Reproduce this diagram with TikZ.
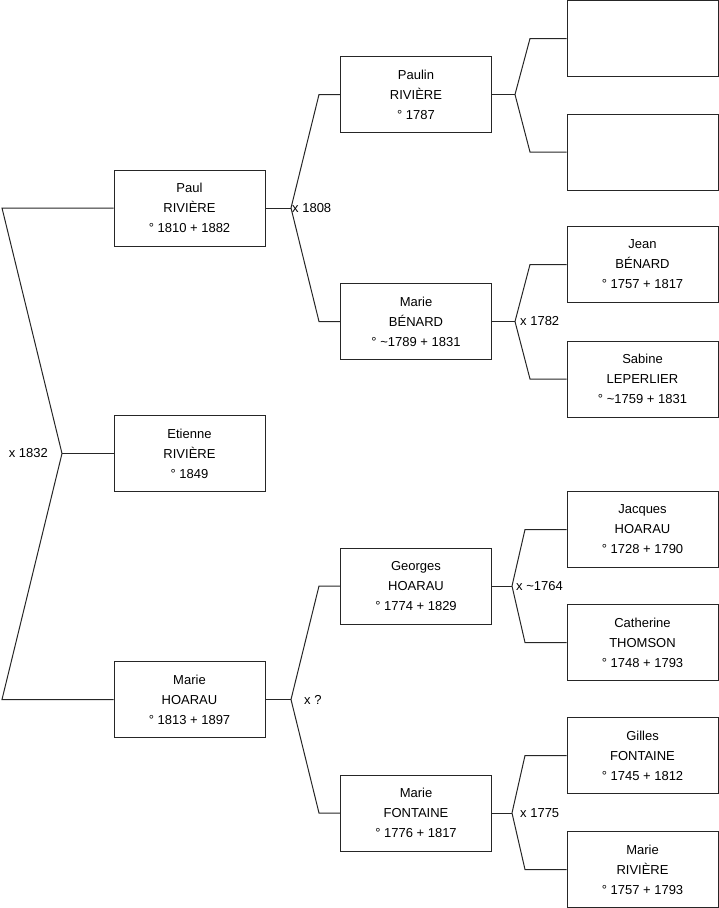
\documentclass[tikz,border=0pt]{standalone}
\usepackage{fontspec}
\setmainfont{Liberation Sans}
\begin{document}
\begin{tikzpicture}[x=1pt,y=-1pt,
  person/.style={draw=black!85,line width=1pt,minimum width=151pt,minimum height=76pt,inner sep=0pt,
    align=center,font=\fontsize{13}{20}\selectfont},
  lbl/.style={inner sep=0pt,font=\fontsize{13}{15}\selectfont},
  link/.style={draw=black!85,line width=1pt}]
\useasboundingbox (0,0) rectangle (719,908);
% generation 1
\node[person] (paul) at (189.5,208) {Paul\\RIVIÈRE\\° 1810 + 1882};
\node[person] (etienne) at (189.5,453.5) {Etienne\\RIVIÈRE\\° 1849};
\node[person] (marieh) at (189.5,699.5) {Marie\\HOARAU\\° 1813 + 1897};
% generation 2
\node[person] (paulin) at (416,94.5) {Paulin\\RIVIÈRE\\° 1787};
\node[person] (marieb) at (416,321.5) {Marie\\BÉNARD\\° \textasciitilde 1789 + 1831};
\node[person] (georges) at (416,586) {Georges\\HOARAU\\° 1774 + 1829};
\node[person] (marief) at (416,813) {Marie\\FONTAINE\\° 1776 + 1817};
% generation 3
\node[person] (e1) at (642.5,38.5) {};
\node[person] (e2) at (642.5,152) {};
\node[person] (jean) at (642.5,264.5) {Jean\\BÉNARD\\° 1757 + 1817};
\node[person] (sabine) at (642.5,379) {Sabine\\LEPERLIER\\° \textasciitilde 1759 + 1831};
\node[person] (jacques) at (642.5,529.5) {Jacques\\HOARAU\\° 1728 + 1790};
\node[person] (catherine) at (642.5,642.5) {Catherine\\THOMSON\\° 1748 + 1793};
\node[person] (gilles) at (642.5,755.5) {Gilles\\FONTAINE\\° 1745 + 1812};
\node[person] (marier) at (642.5,869.5) {Marie\\RIVIÈRE\\° 1757 + 1793};
% fork points and corners
\coordinate (f0) at (62,453.5);
\coordinate (f0t) at (2,208);
\coordinate (f0b) at (2,699.5);
\coordinate (f1) at (291,208);
\coordinate (f1t) at (319,94.5);
\coordinate (f1b) at (319,321.5);
\coordinate (f2) at (291,699.5);
\coordinate (f2t) at (319,586);
\coordinate (f2b) at (319,813);
\coordinate (f3) at (515,94.5);
\coordinate (f3t) at (530,38.5);
\coordinate (f3b) at (530,152);
\coordinate (f4) at (515,321.5);
\coordinate (f4t) at (530,264.5);
\coordinate (f4b) at (530,379);
\coordinate (f5) at (512,586);
\coordinate (f5t) at (525,529.5);
\coordinate (f5b) at (525,642.5);
\coordinate (f6) at (512,813);
\coordinate (f6t) at (525,755.5);
\coordinate (f6b) at (525,869.5);
% connectors
\draw[link] (etienne.west) -- (f0);
\draw[link] (f0) -- (f0t) -- (paul.west);
\draw[link] (f0) -- (f0b) -- (marieh.west);
\draw[link] (paul.east) -- (f1);
\draw[link] (f1) -- (f1t) -- (paulin.west);
\draw[link] (f1) -- (f1b) -- (marieb.west);
\draw[link] (marieh.east) -- (f2);
\draw[link] (f2) -- (f2t) -- (georges.west);
\draw[link] (f2) -- (f2b) -- (marief.west);
\draw[link] (paulin.east) -- (f3);
\draw[link] (f3) -- (f3t) -- (e1.west);
\draw[link] (f3) -- (f3b) -- (e2.west);
\draw[link] (marieb.east) -- (f4);
\draw[link] (f4) -- (f4t) -- (jean.west);
\draw[link] (f4) -- (f4b) -- (sabine.west);
\draw[link] (georges.east) -- (f5);
\draw[link] (f5) -- (f5t) -- (jacques.west);
\draw[link] (f5) -- (f5b) -- (catherine.west);
\draw[link] (marief.east) -- (f6);
\draw[link] (f6) -- (f6t) -- (gilles.west);
\draw[link] (f6) -- (f6b) -- (marier.west);
% marriage labels
\node[lbl,anchor=east] (m0) at (48,453.5) {x 1832};
\node[lbl,anchor=west] (m1) at (292,208) {x 1808};
\node[lbl,anchor=west] (m2) at (304,699.5) {x ?};
\node[lbl,anchor=west] (m4) at (520,321.5) {x 1782};
\node[lbl,anchor=west] (m5) at (516,586) {x \textasciitilde 1764};
\node[lbl,anchor=west] (m6) at (520,813) {x 1775};
\end{tikzpicture}
\end{document}
